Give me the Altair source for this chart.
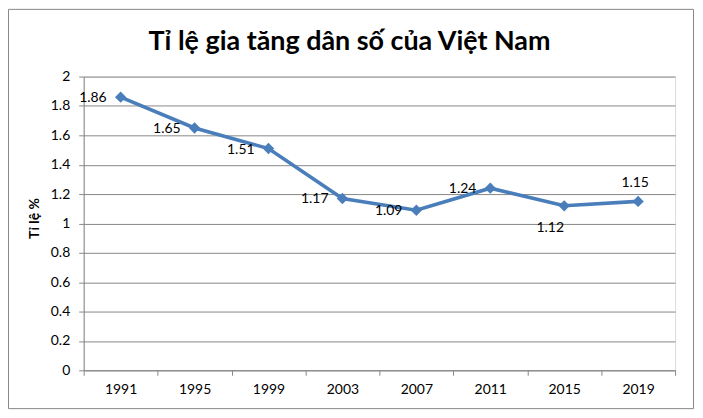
import altair as alt
import pandas as pd

years = ["1991", "1995", "1999", "2003", "2007", "2011", "2015", "2019"]
rates = [1.86, 1.65, 1.51, 1.17, 1.09, 1.24, 1.12, 1.15]
left_label_years = ["1991", "1995", "1999", "2003", "2007", "2011"]
below_label_years = ["2015"]
above_label_years = ["2019"]

df = pd.DataFrame({"year": years, "rate": rates})
df["label"] = df["rate"].map(lambda v: f"{v:g}")

FONT = "Lato"
LINE = "#4A7EBB"
GRID = "#878787"
W, H = 594, 295

base = alt.Chart(df).encode(
    x=alt.X("year:N", sort=years,
            scale=alt.Scale(paddingInner=0, paddingOuter=0),
            axis=alt.Axis(title=None, labelAngle=0, tickBand="extent",
                          domainColor=GRID, tickColor=GRID, tickSize=5,
                          labelPadding=7, labelFontSize=14, labelFont=FONT,
                          labelColor="#000000", grid=False)),
    y=alt.Y("rate:Q", scale=alt.Scale(domain=[0, 2]),
            axis=alt.Axis(title="Tỉ lệ %", values=[0, 0.2, 0.4, 0.6, 0.8, 1, 1.2, 1.4, 1.6, 1.8, 2],
                          format="~g", grid=True, gridColor=GRID, domainColor=GRID,
                          tickColor=GRID, tickSize=5, labelPadding=9,
                          labelFontSize=14, labelFont=FONT, labelColor="#000000",
                          titleFont=FONT, titleFontSize=14, titleFontWeight="bold",
                          titleColor="#000000", titleX=-49, titleY=142,
                          titleAngle=-90, titleBaseline="middle")),
)

line = base.mark_line(color=LINE, strokeWidth=3.6)
pts = base.mark_point(shape="diamond", filled=True, size=130, color=LINE, opacity=1)

lbl_left = base.mark_text(align="right", baseline="middle", dx=-14, dy=1,
                          fontSize=14, font=FONT, color="#000000").encode(
    text="label:N").transform_filter(alt.FieldOneOfPredicate(field="year", oneOf=left_label_years))
lbl_below = base.mark_text(align="center", baseline="middle", dx=-14, dy=22,
                           fontSize=14, font=FONT, color="#000000").encode(
    text="label:N").transform_filter(alt.FieldOneOfPredicate(field="year", oneOf=below_label_years))
lbl_above = base.mark_text(align="center", baseline="middle", dx=-3, dy=-18,
                           fontSize=14, font=FONT, color="#000000").encode(
    text="label:N").transform_filter(alt.FieldOneOfPredicate(field="year", oneOf=above_label_years))

border = alt.Chart(pd.DataFrame({"a": [0]})).mark_rect(
    filled=False, stroke=GRID, strokeWidth=1).encode(
    x=alt.value(-75.5), x2=alt.value(W + 18.5),
    y=alt.value(-67.5), y2=alt.value(H + 38.5))

chart = alt.layer(border, line, pts, lbl_left, lbl_below, lbl_above).properties(
    width=W, height=H,
    title=alt.TitleParams("Tỉ lệ gia tăng dân số của Việt Nam", font=FONT,
                          fontSize=27, fontWeight="bold", color="#000000",
                          anchor="middle", frame="group", dx=-30,
                          baseline="alphabetic", offset=-68),
    autosize=alt.AutoSizeParams(type="none"),
    padding={"left": 76, "top": 68, "right": 20, "bottom": 40},
).configure_view(stroke=None).configure(background="#ffffff")

chart.save("out.html", embed_options={"renderer": "svg", "actions": False})
